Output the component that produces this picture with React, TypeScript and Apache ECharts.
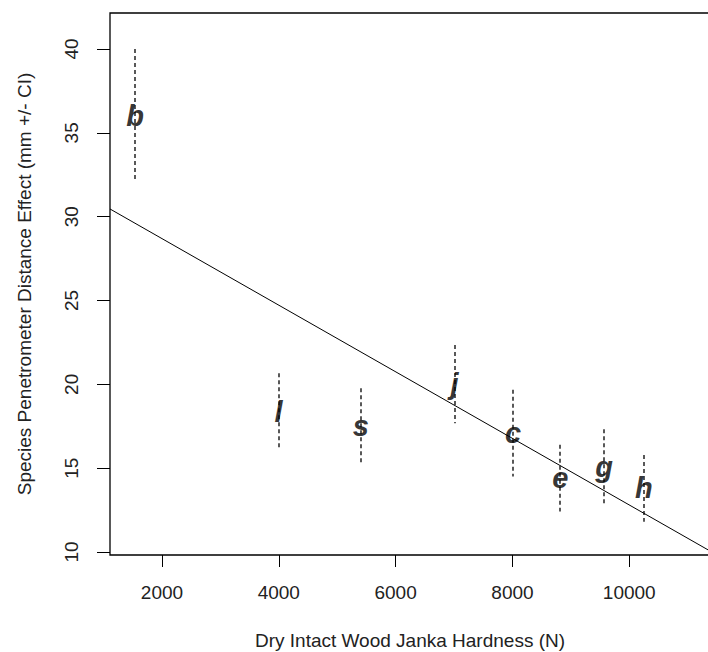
import React, { useEffect, useRef } from "react";
import * as echarts from "echarts";

const speciesCodes = ["b", "l", "s", "j", "c", "e", "g", "h"];
const hardness = [1540, 3995, 5405, 7010, 8010, 8820, 9570, 10250];
const effectMean = [36.0, 18.35, 17.5, 20.0, 17.08, 14.4, 15.07, 13.8];
const ciLow = [32.07, 16.09, 15.2, 17.68, 14.5, 12.41, 12.81, 11.81];
const ciHigh = [40.0, 20.66, 19.77, 22.35, 19.67, 16.39, 17.32, 15.79];

const fitX = [1110, 11382];
const fitY = [30.46, 10.06];

const xTicks = [2000, 4000, 6000, 8000, 10000];
const yTicks = [10, 15, 20, 25, 30, 35, 40];

const FONT = "'Liberation Sans', Arial, sans-serif";

export default function App() {
  const ref = useRef<HTMLDivElement>(null);
  useEffect(() => {
    if (!ref.current) return;
    const chart = echarts.init(ref.current, undefined, { renderer: "svg" });
    const points = speciesCodes.map((c, i) => ({
      value: [hardness[i], effectMean[i]],
      name: c,
    }));
    const bars = speciesCodes.map((c, i) => [hardness[i], ciLow[i], ciHigh[i]]);
    chart.setOption({
      animation: false,
      backgroundColor: "#fff",
      grid: {
        left: 110,
        top: 13,
        width: 600,
        height: 542,
        containLabel: false,
        outerBoundsMode: "none",
        show: true,
        borderColor: "#000",
        borderWidth: 1.3,
        backgroundColor: "transparent",
      },
      xAxis: {
        type: "value",
        min: 1110,
        max: 11382,
        splitLine: { show: false },
        axisLine: { show: false },
        axisTick: { show: true, length: 12, lineStyle: { color: "#000", width: 1 }, customValues: xTicks },
        axisLabel: {
          customValues: xTicks,
          formatter: (v: number) => String(v),
          fontSize: 19,
          color: "#222",
          fontFamily: FONT,
          margin: 28,
        },
        name: "Dry Intact Wood Janka Hardness (N)",
        nameLocation: "middle",
        nameGap: 76,
        nameTextStyle: { fontSize: 19, color: "#222", fontFamily: FONT },
      },
      yAxis: {
        type: "value",
        min: 9.82,
        max: 42.15,
        splitLine: { show: false },
        axisLine: { show: false },
        axisTick: { show: true, length: 13, lineStyle: { color: "#000", width: 1 }, customValues: yTicks },
        axisLabel: {
          customValues: yTicks,
          formatter: (v: number) => String(v),
          rotate: 90,
          fontSize: 19,
          color: "#222",
          fontFamily: FONT,
          margin: 29,
        },
        name: "Species Penetrometer Distance Effect (mm +/- CI)",
        nameLocation: "middle",
        nameGap: 76,
        nameRotate: 90,
        nameTextStyle: { fontSize: 19, color: "#222", fontFamily: FONT },
      },
      series: [
        {
          type: "line",
          data: fitX.map((x, i) => [x, fitY[i]]),
          symbol: "none",
          lineStyle: { color: "#000", width: 1 },
          silent: true,
        },
        {
          type: "custom",
          data: bars,
          renderItem: (params: any, api: any) => {
            const top = api.coord([api.value(0), api.value(2)]);
            const bot = api.coord([api.value(0), api.value(1)]);
            const x = Math.round(top[0]);
            return {
              type: "line",
              shape: { x1: x, y1: top[1], x2: x, y2: bot[1] },
              style: { stroke: "#000", lineWidth: 1.3, lineDash: [4, 3] },
            };
          },
          silent: true,
        },
        {
          type: "scatter",
          data: points,
          symbolSize: 0,
          label: {
            show: true,
            position: "inside",
            formatter: (p: any) => p.name,
            fontSize: 29,
            fontStyle: "italic",
            fontWeight: "bold",
            color: "#000",
            textBorderWidth: 0,
            fontFamily: FONT,
          },
          silent: true,
        },
      ],
    });
    return () => chart.dispose();
  }, []);
  return (
    <div
      ref={ref}
      style={{ position: "fixed", left: 0, top: 0, width: 708, height: 652, background: "#fff" }}
    />
  );
}
